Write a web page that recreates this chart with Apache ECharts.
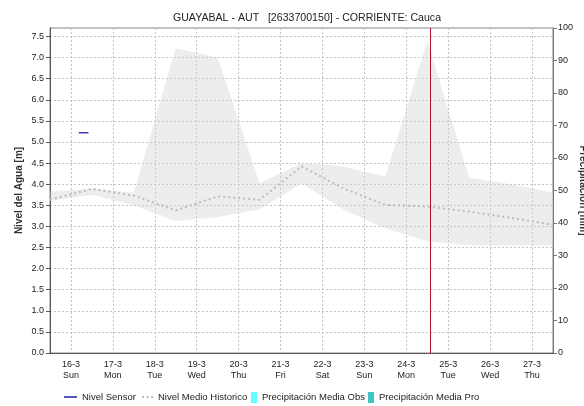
<!DOCTYPE html>
<html>
<head>
<meta charset="utf-8">
<script src="https://cdn.jsdelivr.net/npm/echarts@6/dist/echarts.min.js"></script>
<style>
  html, body { margin: 0; padding: 0; background: #fff; }
  #chart { width: 584px; height: 406px; }
</style>
</head>
<body>
<div id="chart"></div>
<script>
// Day labels on the time axis (midnight of each day)
const dayLabels = ['16-3', '17-3', '18-3', '19-3', '20-3', '21-3', '22-3', '23-3', '24-3', '25-3', '26-3', '27-3'];
const weekdays = ['Sun', 'Mon', 'Tue', 'Wed', 'Thu', 'Fri', 'Sat', 'Sun', 'Mon', 'Tue', 'Wed', 'Thu'];

// Historic statistics, one sample per day at noon (15-3 ... 27-3), in metres
const sampleDays = ['15-3', '16-3', '17-3', '18-3', '19-3', '20-3', '21-3', '22-3', '23-3', '24-3', '25-3', '26-3', '27-3'];
const histUpper = [3.82, 3.90, 3.80, 7.22, 7.00, 4.02, 4.50, 4.42, 4.18, 7.40, 4.15, 4.00, 3.80];
const histLower = [3.60, 3.75, 3.50, 3.12, 3.22, 3.40, 4.02, 3.40, 2.95, 2.65, 2.55, 2.55, 2.55];
const histMean  = [3.63, 3.89, 3.73, 3.38, 3.71, 3.63, 4.42, 3.90, 3.51, 3.47, 3.35, 3.20, 3.04];

// Sensor readings: hours after 16-3 00:00 and level in metres
const sensorHours = [4.5, 10];
const sensorLevel = [5.22, 5.22];

// Precipitation (mm), no records in this period
const precipObs = [];
const precipPro = [];

// Current time marker, hours after 16-3 00:00
const nowHour = 206;

// Half-day slots from 15-3 12:00 to 27-3 12:00; odd slots are midnights
const halfDaySlots = [];
for (let j = 0; j <= dayLabels.length * 2; j++) halfDaySlots.push(j);
const isMidnight = idx => idx % 2 === 1;

const font = '"Liberation Sans", Arial, Helvetica, sans-serif';
const gridLineStyle = { color: '#c4c4c4', type: [2, 2], width: 1 };
const legendText = { fontFamily: font, fontSize: 9.5, color: '#222' };
const barIcon = 'path://M0,0H6V11H0Z';
const solidIcon = 'path://M0,0H13V1.5H0Z';
const dotIcon = 'path://M0,0H2V2H0ZM4.5,0H6.5V2H4.5ZM9,0H11V2H9Z';

const chart = echarts.init(document.getElementById('chart'), null, { renderer: 'canvas' });

chart.setOption({
  animation: false,
  backgroundColor: '#ffffff',
  title: {
    text: 'GUAYABAL - AUT   [2633700150] - CORRIENTE: Cauca',
    left: 302,
    top: 8,
    textAlign: 'center',
    textStyle: { fontFamily: font, fontSize: 10.6, fontWeight: 'normal', color: '#222' }
  },
  grid: {
    left: 50, right: 31, top: 28, bottom: 53,
    outerBoundsMode: 'none', containLabel: false,
    show: true, borderColor: '#888', borderWidth: 1
  },
  legend: [
    { data: [{ name: 'Nivel Sensor', icon: solidIcon }], left: 64, top: 392, padding: 0, itemWidth: 13, itemHeight: 11, selectedMode: false, textStyle: legendText },
    { data: [{ name: 'Nivel Medio Historico', icon: dotIcon }], left: 142, top: 392, padding: 0, itemWidth: 11, itemHeight: 11, selectedMode: false, textStyle: legendText },
    { data: [{ name: 'Precipitación Media Obs', icon: barIcon }], left: 251, top: 392, padding: 0, itemWidth: 6, itemHeight: 11, selectedMode: false, textStyle: legendText },
    { data: [{ name: 'Precipitación Media Pro', icon: barIcon }], left: 368, top: 392, padding: 0, itemWidth: 6, itemHeight: 11, selectedMode: false, textStyle: legendText }
  ],
  xAxis: [
    // noon samples of the historic series
    { type: 'category', data: sampleDays, boundaryGap: false, show: false, position: 'bottom' },
    // continuous hours for the sensor and the time marker
    { type: 'value', min: -12, max: 276, show: false, position: 'bottom' },
    // visible day axis: labels and grid at each midnight
    {
      type: 'category', data: halfDaySlots, boundaryGap: false, position: 'bottom',
      axisLine: { show: true, onZero: false, lineStyle: { color: '#444', type: [1, 1] } },
      axisTick: { show: false },
      axisLabel: {
        interval: isMidnight,
        formatter: (v, idx) => {
          const i = (idx - 1) / 2;
          return dayLabels[i] + '\n' + weekdays[i];
        },
        fontFamily: font, fontSize: 9, color: '#222', margin: 6, lineHeight: 11
      },
      splitLine: { show: true, interval: isMidnight, lineStyle: gridLineStyle }
    }
  ],
  yAxis: [
    {
      type: 'value', min: 0, max: 7.7, interval: 0.5,
      name: 'Nivel del Agua [m]', nameLocation: 'middle', nameGap: 26, nameRotate: 90,
      nameMoveOverlap: false,
      nameTextStyle: { fontFamily: font, fontSize: 10, fontWeight: 'bold', color: '#333' },
      axisLine: { show: true, onZero: false, lineStyle: { color: '#555' } },
      axisTick: { show: true, length: 4, lineStyle: { color: '#555' } },
      axisLabel: { formatter: v => v.toFixed(1), showMaxLabel: false, fontFamily: font, fontSize: 9, color: '#222', margin: 6 },
      splitLine: { show: true, lineStyle: gridLineStyle }
    },
    {
      type: 'value', min: 0, max: 100, interval: 10, position: 'right',
      name: 'Precipitación [mm]', nameLocation: 'middle', nameGap: 25, nameRotate: -90,
      nameMoveOverlap: false,
      nameTextStyle: { fontFamily: font, fontSize: 10, fontWeight: 'bold', color: '#333' },
      axisLine: { show: true, onZero: false, lineStyle: { color: '#777' } },
      axisTick: { show: true, length: 4, lineStyle: { color: '#777' } },
      axisLabel: { fontFamily: font, fontSize: 9, color: '#222', margin: 5 },
      splitLine: { show: false }
    }
  ],
  series: [
    {
      name: 'bandBase', type: 'line', xAxisIndex: 0, yAxisIndex: 0,
      data: histLower, stack: 'hist', symbol: 'none', silent: true,
      lineStyle: { width: 0, opacity: 0 }, z: 1
    },
    {
      name: 'bandRange', type: 'line', xAxisIndex: 0, yAxisIndex: 0,
      data: histUpper.map((u, i) => +(u - histLower[i]).toFixed(2)),
      stack: 'hist', symbol: 'none', silent: true,
      lineStyle: { width: 0, opacity: 0 },
      areaStyle: { color: '#d4d4d4', opacity: 0.42 }, z: 1
    },
    {
      name: 'Nivel Medio Historico', type: 'line', xAxisIndex: 0, yAxisIndex: 0,
      data: histMean, symbol: 'none', silent: true,
      itemStyle: { color: '#bcbcbc' },
      lineStyle: { color: '#bcbcbc', width: 2, type: [2, 3] }, z: 3
    },
    {
      name: 'Nivel Sensor', type: 'line', xAxisIndex: 1, yAxisIndex: 0,
      data: sensorHours.map((h, i) => [h, sensorLevel[i]]),
      symbol: 'none', silent: true,
      itemStyle: { color: '#1f1f9c' },
      lineStyle: { color: '#3a3ab0', width: 1.5 }, z: 4
    },
    {
      name: 'marker', type: 'line', xAxisIndex: 1, yAxisIndex: 0,
      data: [], silent: true,
      itemStyle: { color: '#b01030' },
      markLine: {
        symbol: 'none', silent: true, label: { show: false },
        lineStyle: { color: '#b01030', width: 1, type: 'solid', opacity: 1 },
        emphasis: { disabled: true },
        data: [{ xAxis: nowHour }]
      }, z: 5
    },
    {
      name: 'Precipitación Media Obs', type: 'bar', xAxisIndex: 1, yAxisIndex: 1,
      data: precipObs, itemStyle: { color: '#66ffff' }
    },
    {
      name: 'Precipitación Media Pro', type: 'bar', xAxisIndex: 1, yAxisIndex: 1,
      data: precipPro, itemStyle: { color: '#40c4c4' }
    }
  ]
});
</script>
</body>
</html>
